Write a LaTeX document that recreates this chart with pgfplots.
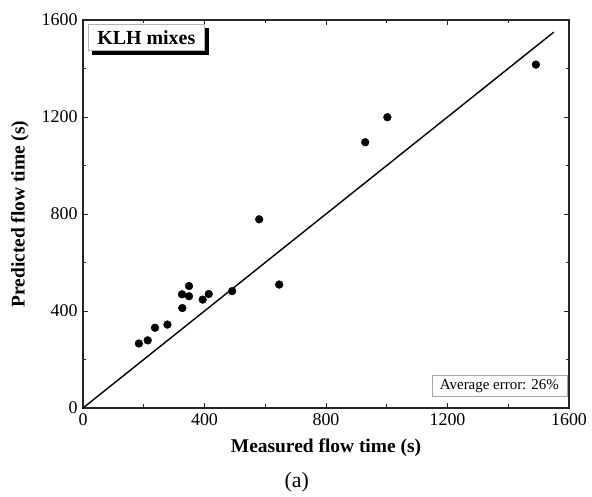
\documentclass[border=0pt]{standalone}
\usepackage{pgfplots}
\pgfplotsset{compat=1.18}
\usepackage{fontspec}
\setmainfont{Liberation Serif}
\usetikzlibrary{shadows}
\begin{document}
\begin{tikzpicture}[x=1bp,y=1bp]
\path[use as bounding box] (-83,-89) rectangle (509,408);
\begin{axis}[at={(0,0)}, anchor=south west, scale only axis,
  width=486bp, height=388bp,
  xmin=0, xmax=1600, ymin=0, ymax=1600,
  xtick={0,400,...,1600}, ytick={0,400,...,1600},
  minor tick num=1,
  tick align=inside, major tick length=5bp, minor tick length=3.5bp,
  axis line style={line width=1.3bp, black!85},
  every tick/.style={black!85, line width=0.9bp},
  ticklabel style={font=\fontsize{18}{20}\selectfont},
  /pgf/number format/assume math mode=true,
  /pgf/number format/1000 sep={},
  xticklabel style={yshift=-2bp},
  yticklabel style={xshift=-2bp},
  xlabel={Measured flow time (s)},
  ylabel={Predicted flow time (s)},
  label style={font=\fontsize{19.5}{21}\selectfont\bfseries},
  xlabel style={at={(axis description cs:0.5,-0.103)}, anchor=center},
  ylabel style={at={(axis description cs:-0.130,0.5)}, anchor=center},
  clip=false,
]
\addplot[black, line width=1.4bp] coordinates {(0,0) (1550,1550)};
\addplot[only marks, mark=*, mark size=3.9bp, mark options={fill=black, draw=black}] coordinates {
(184,266) (213,279) (237,331) (278,344) (327,412) (326,469) (349,503) (349,461)
(394,447) (414,470) (491,482) (646,509) (580,778) (929,1096) (1002,1199) (1491,1416)
};
\node[anchor=north west, draw=gray!60, fill=white, line width=0.6bp,
  font=\fontsize{20}{22}\selectfont\bfseries, inner xsep=9bp, inner ysep=6bp,
  copy shadow={shadow xshift=4bp, shadow yshift=-4bp, fill=black, draw=black}]
  at ([xshift=5bp,yshift=-4bp]axis description cs:0,1) {KLH mixes};
\node[anchor=south east, draw=gray!70, fill=white, line width=0.5bp,
  font=\fontsize{15}{17}\selectfont, inner xsep=8bp, inner ysep=4bp]
  at ([xshift=-2bp,yshift=11bp]axis description cs:1,0) {Average error: 26\%};
\node[font=\fontsize{22}{24}\selectfont] at (axis description cs:0.44,-0.191) {(a)};
\end{axis}
\end{tikzpicture}
\end{document}
